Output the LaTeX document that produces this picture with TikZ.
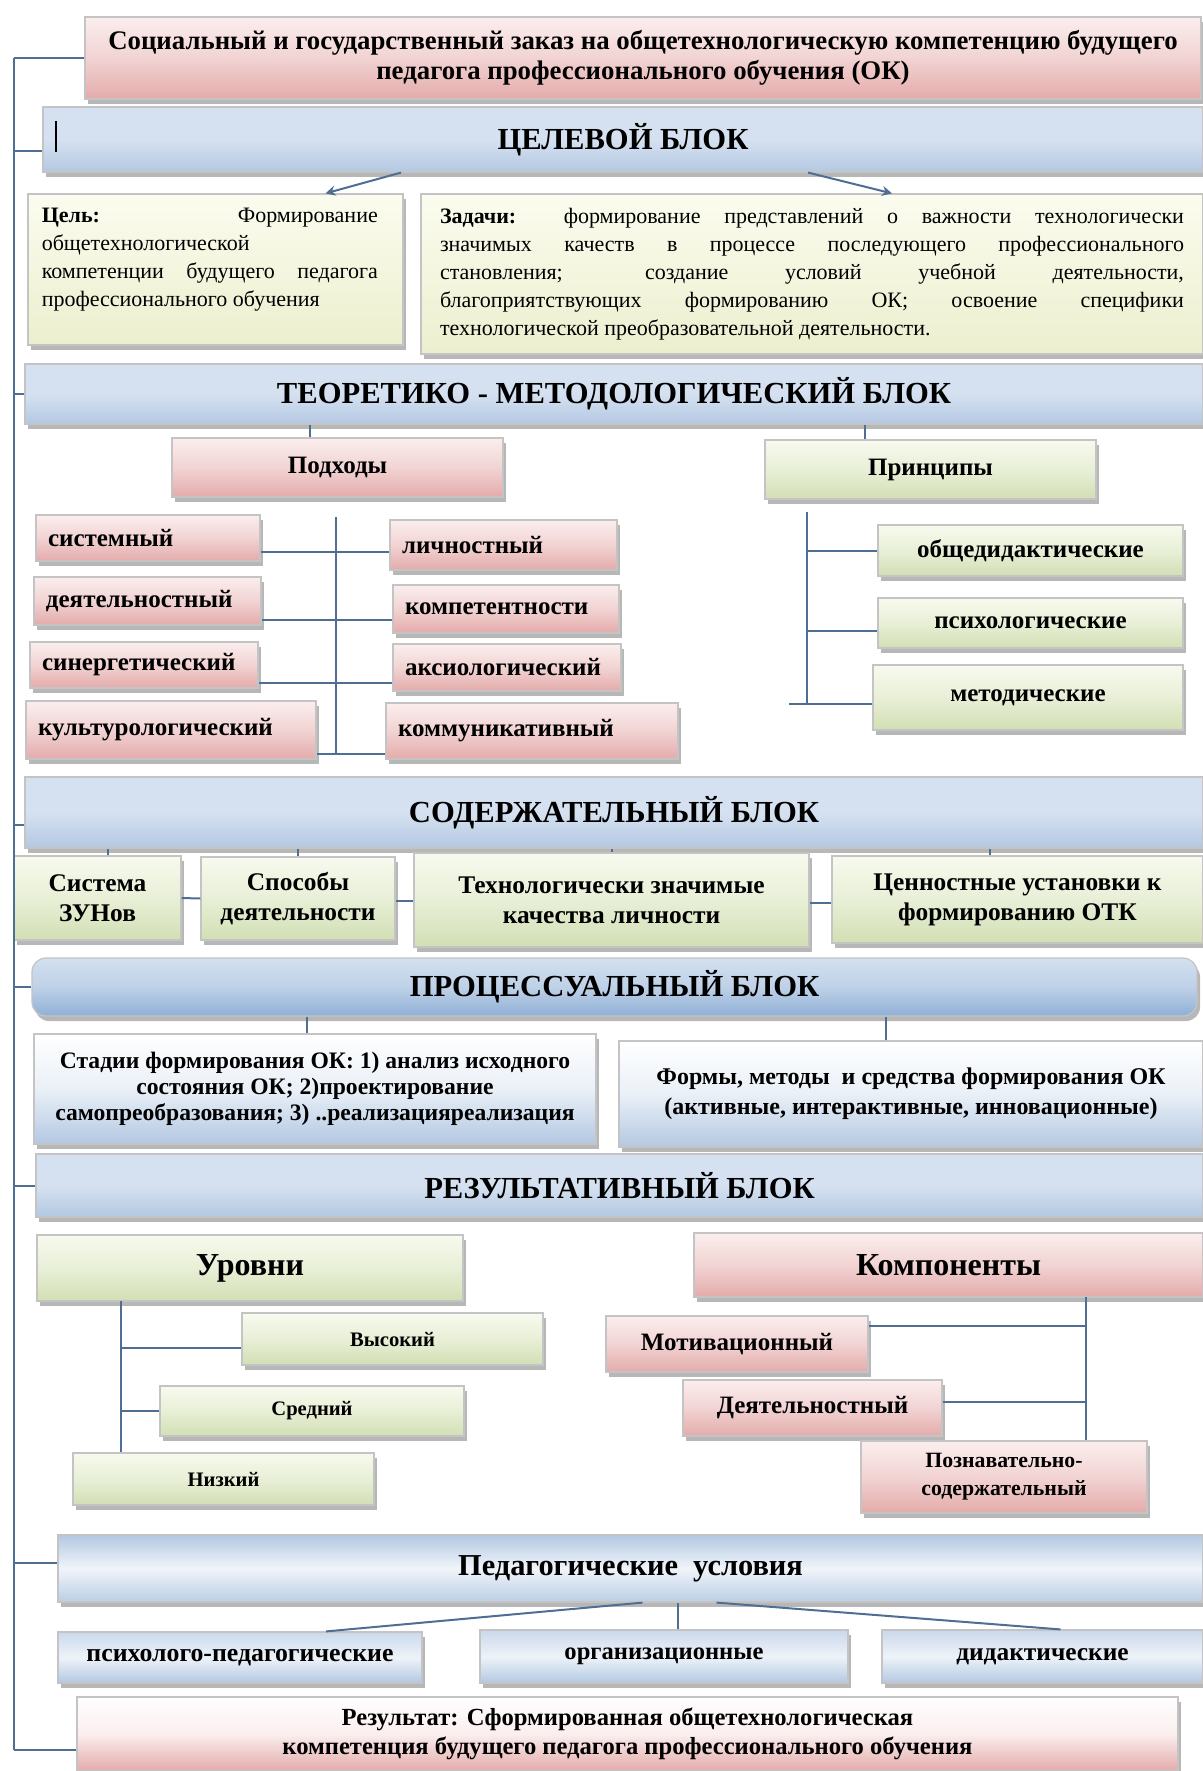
\documentclass[tikz,border=0pt]{standalone}
\usepackage{fontspec}
\setmainfont{Liberation Serif}
\usetikzlibrary{shadows,arrows.meta}

\definecolor{linec}{HTML}{4F6E94}
\definecolor{edgec}{HTML}{C4C4C4}
\definecolor{pinkT}{HTML}{FBEEEE}
\definecolor{pinkB}{HTML}{E3ABAA}
\definecolor{greenT}{HTML}{F7FAEE}
\definecolor{greenB}{HTML}{D2DFB4}
\definecolor{blueT}{HTML}{D5E1F0}
\definecolor{blueB}{HTML}{B3C8E2}
\definecolor{steelT}{HTML}{D3E0EF}
\definecolor{steelB}{HTML}{8FAFD6}
\definecolor{creamT}{HTML}{FBFCEF}
\definecolor{creamB}{HTML}{ECEFCE}

\newcommand\bandfont{\fontsize{15.3}{18}\selectfont\bfseries}
\newcommand\boxfont{\fontsize{12.5}{14}\selectfont\bfseries}

\begin{document}
\begin{tikzpicture}[x=0.5pt,y=-0.5pt,
    box/.style={draw=edgec, line width=0.6pt, inner sep=4pt, align=center,
      font=\boxfont,
      drop shadow={shadow xshift=1.5pt, shadow yshift=-2.5pt, fill=black!40, opacity=0.7}},
    pinkbox/.style={box, top color=pinkT, bottom color=pinkB, middle color=pinkT!60!pinkB},
    greenbox/.style={box, top color=greenT, bottom color=greenB, middle color=greenT!60!greenB},
    creambox/.style={box, top color=creamT, bottom color=creamB},
    bluebox/.style={box, top color=blueB!70, bottom color=blueB, middle color=blueT!40},
    band/.style={box, font=\bandfont, top color=blueT, bottom color=blueB, middle color=blueT},
    leftbox/.style={align=left, inner xsep=6pt, text width=#1},
    conn/.style={draw=linec, line width=1pt},
  ]
\useasboundingbox (0,0) rectangle (1203,1771);

% left spine
\coordinate (spT) at (14,58);
\coordinate (spB) at (14,1750);

% order
\node[pinkbox, minimum width=558pt, minimum height=41pt, font=\fontsize{13.4}{15}\selectfont\bfseries] (soc) at (643,58)
  {Социальный и государственный заказ на общетехнологическую компетенцию будущего\\
   педагога профессионального обучения (ОК)};

% target block
\node[band, minimum width=580pt, minimum height=32.5pt] (celband) at (623,139.5) {ЦЕЛЕВОЙ БЛОК};
\draw[line width=1.4pt] (56,121) -- (56,152);
\node[creambox, minimum width=187.5pt, minimum height=75.5pt] (cel) at (215.5,269.5) {};
\node[anchor=north west, text width=168pt, align=justify, inner sep=0pt,
      font=\fontsize{11}{14}\selectfont] (celtext) at ([xshift=7pt,yshift=-7pt]cel.north west)
  {\textbf{Цель:} Формирование\linebreak общетехнологической\linebreak компетенции будущего педагога
   профессионального обучения};
\node[creambox, minimum width=391pt, minimum height=80pt, text width=372pt, align=justify,
      font=\fontsize{11}{14}\selectfont] (zad) at (812,274)
  {\textbf{Задачи:}\ \ формирование представлений о важности технологически\linebreak
   значимых качеств в процессе последующего профессионального\linebreak
   становления; создание условий учебной деятельности,\linebreak
   благоприятствующих формированию ОК; освоение специфики\linebreak
   технологической преобразовательной деятельности.};
\draw[conn, -{Stealth[length=5pt,width=5pt]}] ([xshift=-111pt]celband.south) -- ([xshift=55pt]cel.north);
\draw[conn, -{Stealth[length=5pt,width=5pt]}] ([xshift=92.5pt]celband.south) -- ([xshift=40pt]zad.north);

% theory block
\node[band, minimum width=589pt, minimum height=30pt] (teoband) at (614,394) {ТЕОРЕТИКО - МЕТОДОЛОГИЧЕСКИЙ БЛОК};
\node[pinkbox, minimum width=165.5pt, minimum height=29.5pt] (podh) at (337.5,467.5) {Подходы};
\node[greenbox, minimum width=165.5pt, minimum height=29.5pt] (princ) at (930.5,469.5) {Принципы};
\draw[conn] ([xshift=-14pt]podh.north) -- ([xshift=-14pt]podh.north |- teoband.south);
\draw[conn] ([xshift=-33pt]princ.north) -- ([xshift=-33pt]princ.north |- teoband.south);

\node[pinkbox, leftbox=100pt, minimum height=23pt] (sys) at (148,538) {системный};
\node[pinkbox, leftbox=101.5pt, minimum height=24pt] (deyat) at (147.5,601) {деятельностный};
\node[pinkbox, leftbox=102pt, minimum height=23pt] (sinerg) at (144,665) {синергетический};
\node[pinkbox, leftbox=133pt, minimum height=29pt] (kult) at (171,730) {культурологический};
\node[pinkbox, leftbox=101.5pt, minimum height=25pt] (lich) at (503.5,545) {личностный};
\node[pinkbox, leftbox=101pt, minimum height=24pt] (komp) at (506,609) {компетентности};
\node[pinkbox, leftbox=102pt, minimum height=23.5pt] (aksio) at (507,667.5) {аксиологический};
\node[pinkbox, leftbox=134pt, minimum height=28pt] (komm) at (532,731) {коммуникативный};
\coordinate (pv) at (336,517);
\coordinate (pvB) at (336,754);
\draw[conn] (pv) -- (pvB);
\draw[conn] ([yshift=-3.5pt]lich.west) -- ([yshift=-3.5pt]lich.west -| sys.east);
\draw[conn] ([yshift=-5.5pt]komp.west) -- ([yshift=-5.5pt]komp.west -| deyat.east);
\draw[conn] ([yshift=-7.5pt]aksio.west) -- ([yshift=-7.5pt]aksio.west -| sinerg.east);
\draw[conn] ([yshift=-11.5pt]komm.west) -- ([yshift=-11.5pt]komm.west -| kult.east);

\node[greenbox, minimum width=152.5pt, minimum height=25.5pt] (obsch) at (1030.5,550.5) {общедидактические};
\node[greenbox, minimum width=152.5pt, minimum height=25pt] (psych) at (1030.5,623) {психологические};
\node[greenbox, minimum width=155pt, minimum height=32.5pt] (metod) at (1028,697.5) {методические};
\coordinate (prv) at (807,512);
\coordinate (prvB) at (807,704);
\draw[conn] (prv) -- (prvB);
\draw[conn] (obsch.west) -- (obsch.west -| prv);
\draw[conn] ([yshift=-4pt]psych.west) -- ([yshift=-4pt]psych.west -| prv);
\draw[conn] ([yshift=-3pt]metod.west) -- ([yshift=-3pt,xshift=-9pt]metod.west -| prv);

% content block
\node[band, minimum width=589pt, minimum height=35.5pt] (sodband) at (614,812.5) {СОДЕРЖАТЕЛЬНЫЙ БЛОК};
\node[greenbox, minimum width=83.5pt, minimum height=42pt, font=\fontsize{12.7}{15}\selectfont\bfseries] (zun) at (97.5,898) {Система\\ЗУНов};
\node[greenbox, minimum width=97pt, minimum height=41.5pt, font=\fontsize{12.7}{15}\selectfont\bfseries] (sposob) at (298,898.5) {Способы\\деятельности};
\node[greenbox, minimum width=197.5pt, minimum height=47pt, font=\fontsize{12.7}{15}\selectfont\bfseries] (tech) at (611.5,900) {Технологически значимые\\качества личности};
\node[greenbox, minimum width=185.5pt, minimum height=43.5pt, font=\fontsize{12.7}{15}\selectfont\bfseries] (cenn) at (1017.5,899.5) {Ценностные установки к\\формированию ОТК};
\draw[conn] ([xshift=5pt]zun.north) -- ([xshift=5pt]zun.north |- sodband.south);
\draw[conn] (sposob.north) -- (sposob.north |- sodband.south);
\draw[conn] (tech.north) -- (tech.north |- sodband.south);
\draw[conn] ([xshift=-14pt]cenn.north) -- ([xshift=-14pt]cenn.north |- sodband.south);
\draw[conn] (zun.east) -- (sposob.west);
\draw[conn] ([yshift=-1pt]sposob.east) -- ([yshift=-1pt]sposob.east -| tech.west);
\draw[conn] ([yshift=-1.5pt]tech.east) -- ([yshift=-1.5pt]tech.east -| cenn.west);

% process block
\node[box, font=\bandfont, rounded corners=7pt, top color=steelT, bottom color=steelB, middle color=steelT!70!steelB,
      minimum width=582.5pt, minimum height=29pt] (procband) at (614.5,987) {ПРОЦЕССУАЛЬНЫЙ БЛОК};
\node[bluebox, top color=white, bottom color=blueB, middle color=blueT!50,
      minimum width=281pt, minimum height=55pt, font=\fontsize{11.8}{13}\selectfont\bfseries] (stad) at (315,1089)
  {Стадии формирования ОК: 1) анализ исходного\\ состояния ОК; 2)проектирование\\ самопреобразования; 3) ..реализацияреализация};
\node[bluebox, top color=white, bottom color=blueB, middle color=blueT!50,
      minimum width=292pt, minimum height=53pt, font=\fontsize{12}{15}\selectfont\bfseries] (form) at (911,1094)
  {Формы, методы\ \ и средства формирования ОК\\ (активные, интерактивные, инновационные)};
\draw[conn] ([xshift=-4pt]stad.north) -- ([xshift=-4pt]stad.north |- procband.south);
\draw[conn] ([xshift=-12.5pt]form.north) -- ([xshift=-12.5pt]form.north |- procband.south);

% result block
\node[band, minimum width=583.5pt, minimum height=31.5pt] (rezband) at (619.5,1185.5) {РЕЗУЛЬТАТИВНЫЙ БЛОК};
\node[greenbox, minimum width=213pt, minimum height=33pt, font=\fontsize{16}{18}\selectfont\bfseries] (urov) at (250,1268) {Уровни};
\node[pinkbox, minimum width=254.5pt, minimum height=32pt, font=\fontsize{16}{18}\selectfont\bfseries] (komps) at (948.5,1265) {Компоненты};
\node[greenbox, minimum width=150.5pt, minimum height=26pt, font=\fontsize{10.3}{11}\selectfont\bfseries] (vys) at (392.5,1339) {Высокий};
\node[greenbox, minimum width=152pt, minimum height=25pt, font=\fontsize{10.3}{11}\selectfont\bfseries] (sred) at (312,1411) {Средний};
\node[greenbox, minimum width=150.5pt, minimum height=26pt, font=\fontsize{10.3}{11}\selectfont\bfseries] (niz) at (223.5,1479) {Низкий};
\coordinate (uv) at (121,1301);
\draw[conn] (uv) -- (uv |- niz.north);
\draw[conn] ([yshift=-4.5pt]vys.west) -- ([yshift=-4.5pt]vys.west -| uv);
\draw[conn] (sred.west) -- (sred.west -| uv);

\node[pinkbox, minimum width=131pt, minimum height=28pt, font=\fontsize{12.5}{14}\selectfont\bfseries] (motiv) at (737,1344) {Мотивационный};
\node[pinkbox, minimum width=129.5pt, minimum height=28pt, font=\fontsize{12.5}{14}\selectfont\bfseries] (deyat2) at (812.5,1408) {Деятельностный};
\node[pinkbox, minimum width=143pt, minimum height=36pt, font=\fontsize{10.9}{14}\selectfont\bfseries] (pozn) at (1004,1477) {Познавательно-\\содержательный};
\coordinate (kv) at (1086,1297);
\draw[conn] (kv) -- (kv |- pozn.north);
\draw[conn] ([yshift=9pt]motiv.east) -- ([yshift=9pt]motiv.east -| kv);
\draw[conn] ([yshift=3pt]deyat2.east) -- ([yshift=3pt]deyat2.east -| kv);

% pedagogical conditions
\node[band, top color=blueB, bottom color=blueB!90, middle color=blueT!35, font=\fontsize{15.2}{17}\selectfont\bfseries,
      minimum width=572.5pt, minimum height=33.5pt] (pedband) at (630.5,1568.5) {Педагогические\ \ условия};
\node[bluebox, minimum width=182pt, minimum height=25.5pt, font=\fontsize{12.9}{14}\selectfont\bfseries] (pp) at (240,1657.5) {психолого-педагогические};
\node[bluebox, minimum width=184pt, minimum height=26.5pt, font=\fontsize{12.3}{14}\selectfont\bfseries] (org) at (664,1656.5) {организационные};
\node[bluebox, minimum width=160.5pt, minimum height=26.5pt, font=\fontsize{12.7}{14}\selectfont\bfseries] (did) at (1042.5,1656.5) {дидактические};
\draw[conn] ([xshift=7pt]org.north) -- ([xshift=7pt]org.north |- pedband.south);
\draw[conn] ([xshift=6pt]pedband.south) -- ([xshift=43pt]pp.north);
\draw[conn] ([xshift=43pt]pedband.south) -- ([xshift=9pt]did.north);

\node[pinkbox, top color=white, bottom color=pinkB, middle color=pinkT,
      minimum width=550.5pt, minimum height=37pt, font=\fontsize{12.3}{14.5}\selectfont\bfseries] (rez) at (627.5,1734)
  {Результат: Сформированная общетехнологическая\\ компетенция будущего педагога профессионального обучения};

% spine and ticks
\draw[conn] (spT) -- (spB);
\draw[conn] (soc.west) -- (soc.west -| spT);
\draw[conn] ([yshift=-6pt]celband.west) -- ([yshift=-6pt]celband.west -| spT);
\draw[conn] (teoband.west) -- (teoband.west -| spT);
\draw[conn] ([yshift=-6pt]sodband.west) -- ([yshift=-6pt]sodband.west -| spT);
\draw[conn] (procband.west) -- (procband.west -| spT);
\draw[conn] (rezband.west) -- (rezband.west -| spT);
\draw[conn] ([yshift=3pt]pedband.west) -- ([yshift=3pt]pedband.west -| spT);
\draw[conn] ([yshift=-8pt]rez.west) -- ([yshift=-8pt]rez.west -| spT);
\end{tikzpicture}
\end{document}
